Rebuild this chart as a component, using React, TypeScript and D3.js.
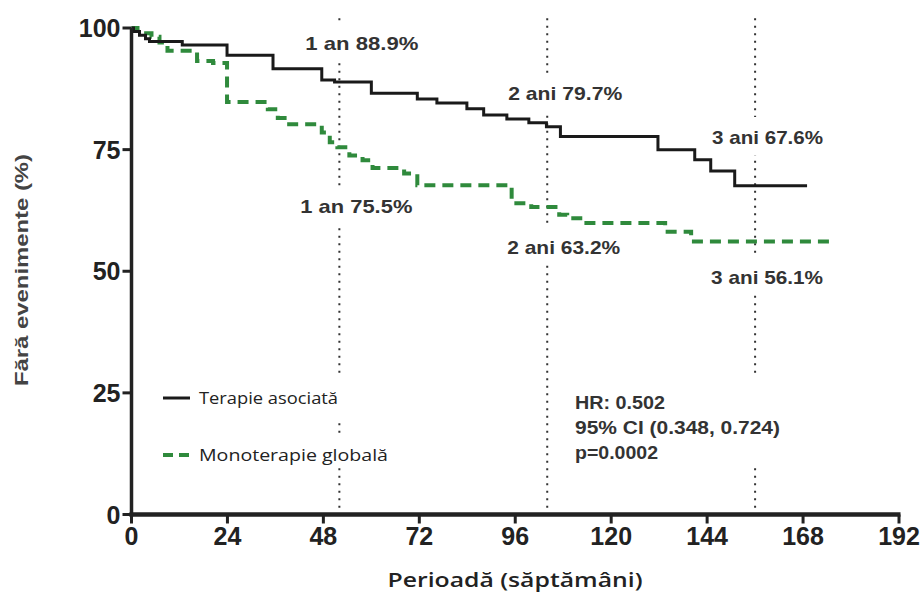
import React from 'react';
import * as d3 from 'd3';

const W = 923, H = 595;

const xTicks = [0, 24, 48, 72, 96, 120, 144, 168, 192];
const yTicks = [0, 25, 50, 75, 100];

// Terapie asociată (Kaplan-Meier steps)
const weeksAsoc = [0, 0.5, 2, 3.5, 4.5, 12.7, 23.9, 35.4, 47.6, 50.8, 60, 71.5, 76.4, 83.9, 88.1, 93.9, 99.4, 103.8, 107.3, 131.7, 140.9, 144.9, 150.9, 169];
const survAsoc = [100, 99.3, 98.5, 97.8, 97.2, 96.5, 94.4, 91.6, 89.3, 88.9, 86.6, 85.4, 84.6, 83.4, 82.1, 81.3, 80.5, 79.7, 77.7, 75.0, 72.9, 70.6, 67.6, 67.6];

// Monoterapie globală
const weeksMono = [0, 1.5, 3, 5, 7, 9, 16.4, 20.4, 23.9, 34.1, 36.6, 38.3, 47.6, 49.6, 51.5, 54.5, 57.8, 60.3, 68.2, 71.5, 95.1, 100, 107, 109, 113, 133.5, 140, 175];
const survMono = [100, 99.4, 98.9, 98.2, 97.0, 95.3, 93.2, 92.8, 84.8, 83.3, 81.5, 80.2, 78.5, 76.5, 75.5, 73.8, 72.8, 71.2, 70.1, 67.7, 64.0, 63.2, 61.6, 60.9, 59.9, 58.1, 56.1, 56.1];

const landmarkWeeks = [52, 104, 156];
const labelsAsoc = ['1 an 88.9%', '2 ani 79.7%', '3 ani 67.6%'];
const labelsMono = ['1 an 75.5%', '2 ani 63.2%', '3 ani 56.1%'];
const legendLabels = ['Terapie asociată', 'Monoterapie globală'];
const statsLines = ['HR: 0.502', '95% CI (0.348, 0.724)', 'p=0.0002'];

const GREEN = '#2f8a3c';
const BLACK = '#1a1a1a';

export default function App() {
  const x = d3.scaleLinear().domain([0, 192]).range([131.5, 899]);
  const y = d3.scaleLinear().domain([0, 100]).range([514.5, 28]);

  const line = d3.line<[number, number]>()
    .x(d => x(d[0]))
    .y(d => y(d[1]))
    .curve(d3.curveStepAfter);

  const asocPath = line(weeksAsoc.map((w, i) => [w, survAsoc[i]]) as [number, number][]) || '';
  const monoPath = line(weeksMono.map((w, i) => [w, survMono[i]]) as [number, number][]) || '';

  // label layout (pixel offsets from landmark line, center y, width)
  const asocLayout = [
    { dx: -34, cy: 43, w: 113 },
    { dx: -39, cy: 93, w: 114 },
    { dx: -43, cy: 137, w: 111 },
  ];
  const monoLayout = [
    { dx: -39, cy: 206, w: 112 },
    { dx: -40, cy: 247, w: 113 },
    { dx: -44, cy: 277, w: 112 },
  ];

  const font = '"Liberation Sans", Arial, sans-serif';

  const renderLabel = (txt: string, wk: number, l: { dx: number; cy: number; w: number }, key: string) => {
    const sx = x(wk) + l.dx;
    return (
      <g key={key}>
        <rect x={sx - 4} y={l.cy - 20} width={l.w + 8} height={38} fill="#fff" />
      </g>
    );
  };

  const renderLabelText = (txt: string, wk: number, l: { dx: number; cy: number; w: number }, key: string) => {
    const sx = x(wk) + l.dx;
    return (
      <text key={key} x={sx} y={l.cy + 7} fontFamily={font} fontWeight="bold" fontSize={19}
        fill="#333" textLength={l.w} lengthAdjust="spacingAndGlyphs">{txt}</text>
    );
  };

  return (
    <svg width={W} height={H} style={{ position: 'absolute', left: 0, top: 0, background: '#fff' }}>
      <rect x={0} y={0} width={W} height={H} fill="#fff" />

      {/* landmark dotted lines */}
      {landmarkWeeks.map(w => (
        <line key={w} x1={x(w)} x2={x(w)} y1={y(102)} y2={y(0)} stroke="#333" strokeWidth={2}
          strokeDasharray="2,5.5" />
      ))}

      {/* label backgrounds */}
      {labelsAsoc.map((t, i) => renderLabel(t, landmarkWeeks[i], asocLayout[i], 'ra' + i))}
      {labelsMono.map((t, i) => renderLabel(t, landmarkWeeks[i], monoLayout[i], 'rm' + i))}

      {/* stats box background */}
      <rect x={562} y={378} width={208} height={89} fill="#fff" />
      {/* legend backgrounds */}
      <rect x={155} y={377} width={240} height={43} fill="#fff" />
      <rect x={155} y={435} width={240} height={31} fill="#fff" />

      {/* curves */}
      <path d={monoPath} fill="none" stroke={GREEN} strokeWidth={4} strokeDasharray="11,7" />
      <path d={asocPath} fill="none" stroke={BLACK} strokeWidth={3} />

      {/* landmark labels */}
      {labelsAsoc.map((t, i) => renderLabelText(t, landmarkWeeks[i], asocLayout[i], 'ta' + i))}
      {labelsMono.map((t, i) => renderLabelText(t, landmarkWeeks[i], monoLayout[i], 'tm' + i))}

      {/* stats */}
      {statsLines.map((s, i) => (
        <text key={s} x={575} y={409 + i * 25} fontFamily={font} fontWeight="bold" fontSize={18} fill="#333"
          textLength={[90, 205, 83][i]} lengthAdjust="spacingAndGlyphs">{s}</text>
      ))}

      {/* legend */}
      <line x1={163} x2={190} y1={398} y2={398} stroke={BLACK} strokeWidth={3} />
      <text x={199} y={404} fontFamily='"Open Sans", sans-serif' fontSize={16} fill="#222"
        textLength={139} lengthAdjust="spacingAndGlyphs">{legendLabels[0]}</text>
      <line x1={163} x2={194} y1={455} y2={455} stroke={GREEN} strokeWidth={4} strokeDasharray="10,6" />
      <text x={199} y={461} fontFamily='"Open Sans", sans-serif' fontSize={16} fill="#222"
        textLength={189} lengthAdjust="spacingAndGlyphs">{legendLabels[1]}</text>

      {/* axes */}
      <line x1={x(0)} x2={x(0)} y1={y(100)} y2={y(0) + 2} stroke="#222" strokeWidth={3.5} />
      <line x1={x(0) - 2} x2={x(192) + 1.5} y1={y(0)} y2={y(0)} stroke="#222" strokeWidth={4.5} />
      {yTicks.map(t => (
        <g key={'y' + t}>
          <line x1={x(0) - 9} x2={x(0)} y1={y(t)} y2={y(t)} stroke="#222" strokeWidth={3} />
          <text x={x(0) - 11} y={y(t) + 9} textAnchor="end" fontFamily={font} fontWeight="bold"
            fontSize={25} fill="#222">{t}</text>
        </g>
      ))}
      {xTicks.map(t => (
        <g key={'x' + t}>
          <line x1={x(t)} x2={x(t)} y1={y(0)} y2={y(0) + 9} stroke="#222" strokeWidth={3} />
          <text x={x(t)} y={545} textAnchor="middle" fontFamily={font} fontWeight="bold"
            fontSize={25} fill="#222">{t}</text>
        </g>
      ))}

      {/* axis titles */}
      <text x={515} y={587} textAnchor="middle" fontFamily='"Open Sans", sans-serif' fontWeight={600}
        fontSize={19} fill="#222" textLength={255} lengthAdjust="spacingAndGlyphs">Perioadă (săptămâni)</text>
      <text transform="translate(28,270) rotate(-90)" textAnchor="middle" fontFamily={font} fontWeight="bold"
        fontSize={18} fill="#444" textLength={232} lengthAdjust="spacingAndGlyphs">Fără evenimente (%)</text>
    </svg>
  );
}
